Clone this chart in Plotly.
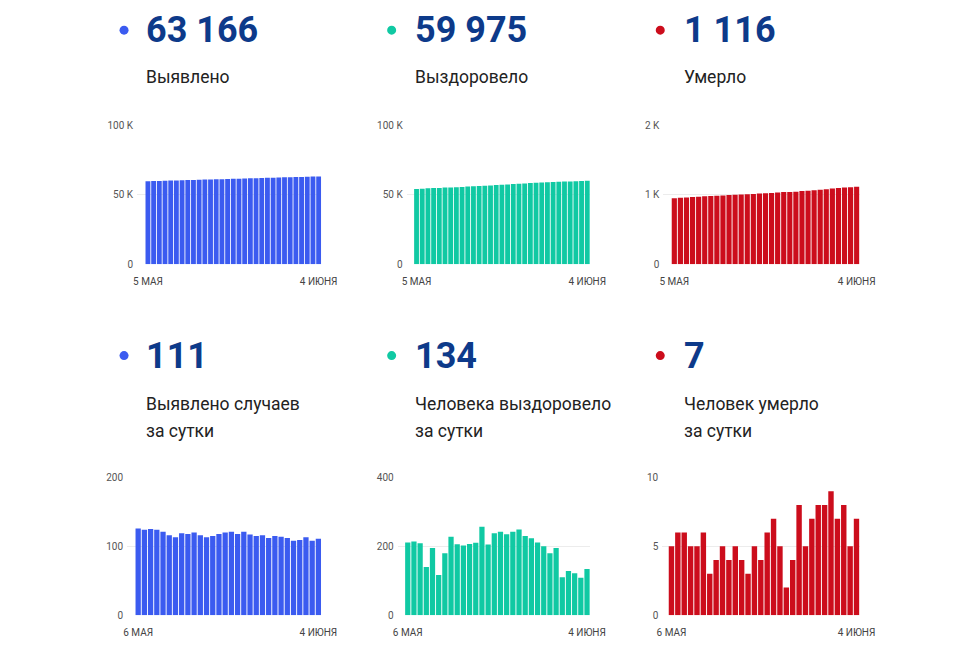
import plotly.graph_objects as go

OFF = 8                      # default page body margin
W, H = 980 - 2 * OFF, 653 - 2 * OFF
# observed display transform of the page: display = C + S * window
SX, CX = 0.976, 6.4
SY, CY = 0.98, 6.0

# ---------------- data ----------------
top_dates = [f"{d} мая" for d in range(5, 32)] + [f"{d} июня" for d in range(1, 5)]
bottom_dates = top_dates[1:]

cases_total = [59668, 59794, 59918, 60043, 60167, 60288, 60404, 60517, 60636, 60754,
               60874, 60990, 61103, 61218, 61336, 61456, 61577, 61695, 61816, 61933,
               62048, 62164, 62276, 62391, 62505, 62617, 62725, 62834, 62947, 63055, 63166]
recovered_total = [54146, 54357, 54571, 54780, 54920, 55115, 55232, 55412, 55640, 55846,
                   56048, 56255, 56465, 56722, 56927, 57165, 57407, 57642, 57884, 58133,
                   58363, 58586, 58797, 58997, 59177, 59372, 59482, 59610, 59732, 59841, 59975]
deaths_total = [950, 955, 961, 967, 972, 977, 983, 986, 990, 995, 999, 1004, 1008, 1011,
                1016, 1020, 1026, 1033, 1038, 1040, 1044, 1052, 1057, 1064, 1072, 1080,
                1089, 1096, 1104, 1109, 1116]

cases_daily = [126, 124, 125, 124, 121, 116, 113, 119, 118, 120, 116, 113, 115, 118, 120,
               121, 118, 121, 117, 115, 116, 112, 115, 114, 112, 108, 109, 113, 108, 111]
recovered_daily = [211, 214, 209, 140, 195, 117, 180, 228, 206, 202, 207, 210, 257, 205, 238,
                   242, 235, 242, 249, 230, 223, 211, 200, 180, 195, 110, 128, 122, 109, 134]
deaths_daily = [5, 6, 6, 5, 5, 6, 3, 4, 5, 4, 5, 4, 3, 5, 4, 6, 7, 5, 2, 4, 8, 5, 7, 8, 8,
                9, 7, 8, 5, 7]

headline_values = ["63 166", "59 975", "1 116", "111", "134", "7"]
headline_labels = [["Выявлено"], ["Выздоровело"], ["Умерло"],
                   ["Выявлено случаев", "за сутки"],
                   ["Человека выздоровело", "за сутки"],
                   ["Человек умерло", "за сутки"]]

top_ticks = ["5 МАЯ", "4 ИЮНЯ"]
bottom_ticks = ["6 МАЯ", "4 ИЮНЯ"]

y_ticks = [
    ([0, 50000, 100000], ["0", "50 K", "100 K"]),
    ([0, 50000, 100000], ["0", "50 K", "100 K"]),
    ([0, 1000, 2000], ["0", "1 K", "2 K"]),
    ([0, 100, 200], ["0", "100", "200"]),
    ([0, 200, 400], ["0", "200", "400"]),
    ([0, 5, 10], ["0", "5", "10"]),
]

BLUE = "#3b5bf0"
TEAL = "#10c9a3"
RED = "#cc0d1c"
NAVY = "#0d3a8a"
colors = [BLUE, TEAL, RED, BLUE, TEAL, RED]

series = [
    (top_dates, cases_total, top_ticks),
    (top_dates, recovered_total, top_ticks),
    (top_dates, deaths_total, top_ticks),
    (bottom_dates, cases_daily, bottom_ticks),
    (bottom_dates, recovered_daily, bottom_ticks),
    (bottom_dates, deaths_daily, bottom_ticks),
]

# pixel geometry (display coords): (plot left, first bar left, plot right)
xgeom = [(138, 146, 322), (407, 414, 590), (663, 671, 859),
         (128, 136, 322), (398, 405, 590), (662, 668, 859)]
ygeom = [(125, 263.7)] * 3 + [(476.7, 614.3)] * 3

# header geometry (display coords): (dot x, text x, dot y, number y, label line ys)
hgeom = [(125, 144.5, 30, 29.5, [77]), (392, 413.5, 30, 29.5, [77]),
         (660, 681.5, 30, 29.5, [77]),
         (125, 144.5, 355, 355.5, [403, 430]), (392, 413.5, 355, 355.5, [403, 430]),
         (660, 681.5, 355, 355.5, [403, 430])]


def px(d):
    return ((d - CX) / SX - OFF) / W


def py(d):
    return 1 - ((d - CY) / SY - OFF) / H


fig = go.Figure()

for i, ((xs, ys, ticks), col) in enumerate(zip(series, colors)):
    n = i + 1
    xa = "x" if n == 1 else f"x{n}"
    ya = "y" if n == 1 else f"y{n}"
    fig.add_trace(go.Bar(x=xs, y=ys, marker=dict(color=col, line=dict(width=0)),
                         xaxis=xa, yaxis=ya, hoverinfo="x+y", showlegend=False))
    left, bstart, right = xgeom[i]
    top, bottom = ygeom[i]
    nb = len(xs)
    per = (right - bstart) / nb
    pad = (bstart - left) / per
    tv, tt = y_ticks[i]
    xkey = "xaxis" if n == 1 else f"xaxis{n}"
    ykey = "yaxis" if n == 1 else f"yaxis{n}"
    fig.update_layout(**{
        xkey: dict(domain=[px(left), px(right)], anchor=ya, type="category",
                   range=[-0.5 - pad, nb - 0.5], tickmode="array",
                   tickvals=[xs[0], xs[-1]], ticktext=ticks, showgrid=False,
                   zeroline=False, showline=False, ticks="outside", ticklen=8,
                   tickcolor="rgba(0,0,0,0)",
                   tickfont=dict(family="Roboto", size=10, color="#444")),
        ykey: dict(domain=[py(bottom), py(top)], anchor=xa,
                   range=[0, tv[-1]], tickmode="array", tickvals=tv, ticktext=tt,
                   showgrid=True, gridcolor="#ececec", gridwidth=1, zeroline=False,
                   showline=False, ticks="", ticklabelstandoff=3,
                   tickfont=dict(family="Roboto", size=10, color="#555")),
    })

annotations = []
shapes = []
for i in range(6):
    dx, tx, dy, ny, lys = hgeom[i]
    shapes.append(dict(type="circle", xref="paper", yref="paper",
                       x0=px(dx - 4.5), x1=px(dx + 4.5),
                       y0=py(dy + 4.5), y1=py(dy - 4.5),
                       fillcolor=colors[i], line=dict(width=0)))
    annotations.append(dict(xref="paper", yref="paper", x=px(tx), y=py(ny),
                            xanchor="left", yanchor="middle", showarrow=False,
                            text=f"<b>{headline_values[i]}</b>",
                            font=dict(family="Roboto", size=36, color=NAVY)))
    for line, ly in zip(headline_labels[i], lys):
        annotations.append(dict(xref="paper", yref="paper", x=px(tx), y=py(ly),
                                xanchor="left", yanchor="middle", showarrow=False,
                                text=line,
                                font=dict(family="Roboto", size=17.5, color="#222")))

fig.update_layout(width=W, height=H, margin=dict(l=0, r=0, t=0, b=0),
                  paper_bgcolor="white", plot_bgcolor="white", bargap=0.15,
                  annotations=annotations, shapes=shapes,
                  font=dict(family="Roboto"))

fig.write_html("out.html")
